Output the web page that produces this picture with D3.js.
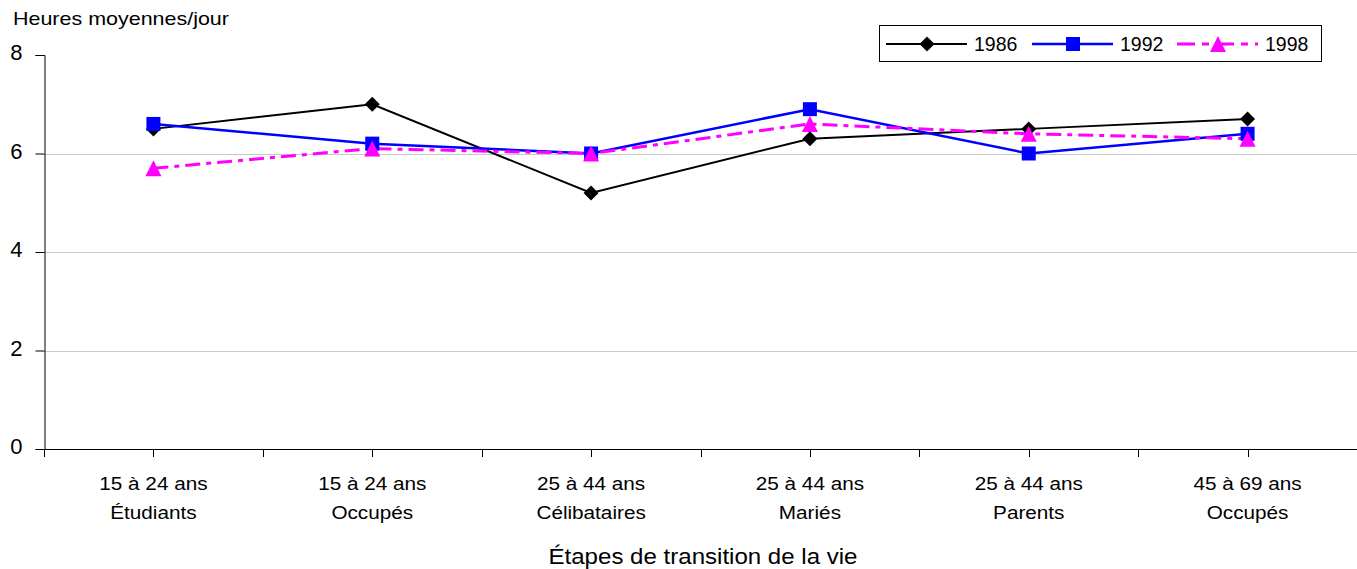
<!DOCTYPE html>
<html>
<head>
<meta charset="utf-8">
<script src="https://cdn.jsdelivr.net/npm/d3@7"></script>
<style>
  body { margin: 0; background: #fff; }
  svg { font-family: "Liberation Sans", Arial, sans-serif; }
</style>
</head>
<body>
<svg width="1357" height="569"></svg>
<script>
// données
const categories = [
  ["15 à 24 ans", "Étudiants"],
  ["15 à 24 ans", "Occupés"],
  ["25 à 44 ans", "Célibataires"],
  ["25 à 44 ans", "Mariés"],
  ["25 à 44 ans", "Parents"],
  ["45 à 69 ans", "Occupés"]
];
const years = ["1986", "1992", "1998"];
const v1986 = [6.5, 7.0, 5.2, 6.3, 6.5, 6.7];
const v1992 = [6.6, 6.2, 6.0, 6.9, 6.0, 6.4];
const v1998 = [5.7, 6.1, 6.0, 6.6, 6.4, 6.3];
const yTicks = [0, 2, 4, 6, 8];

// symboles façon Excel
const diamond = {
  draw(ctx, size) {
    const r = Math.sqrt(size) / 2;
    ctx.moveTo(0, -r); ctx.lineTo(r, 0); ctx.lineTo(0, r); ctx.lineTo(-r, 0); ctx.closePath();
  }
};
const square = {
  draw(ctx, size) {
    const r = Math.sqrt(size) / 2;
    ctx.rect(-r, -r, 2 * r, 2 * r);
  }
};
const triangle = {
  draw(ctx, size) {
    const r = Math.sqrt(size) / 2;
    ctx.moveTo(0, -r); ctx.lineTo(r, r); ctx.lineTo(-r, r); ctx.closePath();
  }
};

const series = [
  { name: years[0], values: v1986, color: "#000000", symbol: diamond, dash: null, size: 225, width: 2 },
  { name: years[1], values: v1992, color: "#0000ff", symbol: square, dash: null, size: 196, width: 2.5 },
  { name: years[2], values: v1998, color: "#ff00ff", symbol: triangle, dash: "15,6,5,6", size: 256, width: 3 }
];

const svg = d3.select("svg");
const plotLeft = 44, plotRight = 1357, plotTop = 55, plotBottom = 449;

const x = d3.scaleBand().domain(d3.range(categories.length)).range([plotLeft, plotRight]);
const y = d3.scaleLinear().domain([0, 8]).range([plotBottom, plotTop]);

// quadrillage
svg.append("g")
  .selectAll("line")
  .data(yTicks.filter(t => t > 0 && t < 8))
  .enter()
  .append("line")
  .attr("x1", plotLeft).attr("x2", plotRight)
  .attr("y1", d => Math.round(y(d)) + 0.5).attr("y2", d => Math.round(y(d)) + 0.5)
  .attr("stroke", "#c8c8c8").attr("stroke-width", 1);

// axe y
const yAxis = svg.append("g")
  .attr("transform", `translate(${plotLeft + 0.5},0)`)
  .call(d3.axisLeft(y).tickValues(yTicks).tickSize(9).tickPadding(13));
yAxis.select(".domain").attr("stroke", "#000");
yAxis.selectAll("text").attr("font-size", 22).attr("fill", "#000").attr("dy", "0.22em")
  .attr("font-family", "Liberation Sans, Arial, sans-serif");

// axe x (ticks aux limites et aux centres)
const xTickPos = d3.range(categories.length * 2 + 1).map(i => plotLeft + i * x.bandwidth() / 2);
svg.append("line")
  .attr("x1", plotLeft).attr("x2", plotRight)
  .attr("y1", plotBottom + 0.5).attr("y2", plotBottom + 0.5)
  .attr("stroke", "#000");
svg.append("g")
  .selectAll("line")
  .data(xTickPos)
  .enter()
  .append("line")
  .attr("x1", d => Math.round(d) + 0.5).attr("x2", d => Math.round(d) + 0.5)
  .attr("y1", plotBottom).attr("y2", plotBottom + 8)
  .attr("stroke", "#000");

const labels = svg.append("g")
  .selectAll("g")
  .data(categories)
  .enter()
  .append("g")
  .attr("transform", (d, i) => `translate(${x(i) + x.bandwidth() / 2},0) scale(1.12,1)`);
labels.append("text").attr("y", 490).attr("text-anchor", "middle").attr("font-size", 18.5).text(d => d[0]);
labels.append("text").attr("y", 519).attr("text-anchor", "middle").attr("font-size", 18.5).text(d => d[1]);

// titres
svg.append("text")
  .attr("transform", "translate(703,564) scale(1.13,1)")
  .attr("text-anchor", "middle")
  .attr("font-size", 21.3)
  .text("Étapes de transition de la vie");
svg.append("text")
  .attr("transform", "translate(13,25) scale(1.13,1)")
  .attr("font-size", 19)
  .text("Heures moyennes/jour");

// séries
const line = d3.line()
  .x((d, i) => x(i) + x.bandwidth() / 2)
  .y(d => y(d));

series.forEach(s => {
  svg.append("path")
    .datum(s.values)
    .attr("d", line)
    .attr("fill", "none")
    .attr("stroke", s.color)
    .attr("stroke-width", s.width)
    .attr("stroke-dasharray", s.dash);
});
series.forEach(s => {
  svg.append("g")
    .selectAll("path")
    .data(s.values)
    .enter()
    .append("path")
    .attr("transform", (d, i) => `translate(${x(i) + x.bandwidth() / 2},${y(d)})`)
    .attr("d", d3.symbol().type(s.symbol).size(s.size))
    .attr("fill", s.color);
});

// légende
const legend = svg.append("g");
legend.append("rect")
  .attr("x", 879.5).attr("y", 25.5)
  .attr("width", 442).attr("height", 36)
  .attr("fill", "#fff").attr("stroke", "#000");
const legX = [886, 1032, 1177];
series.forEach((s, i) => {
  const g = legend.append("g").attr("transform", `translate(${legX[i]},44)`);
  g.append("line")
    .attr("x1", 0).attr("x2", 81)
    .attr("stroke", s.color).attr("stroke-width", s.width)
    .attr("stroke-dasharray", s.dash ? "18,7,7,7" : null);
  g.append("path")
    .attr("transform", "translate(41,0)")
    .attr("d", d3.symbol().type(s.symbol).size(s.size))
    .attr("fill", s.color);
  g.append("text")
    .attr("x", 88).attr("y", 7)
    .attr("font-size", 19.5)
    .text(s.name);
});
</script>
</body>
</html>
